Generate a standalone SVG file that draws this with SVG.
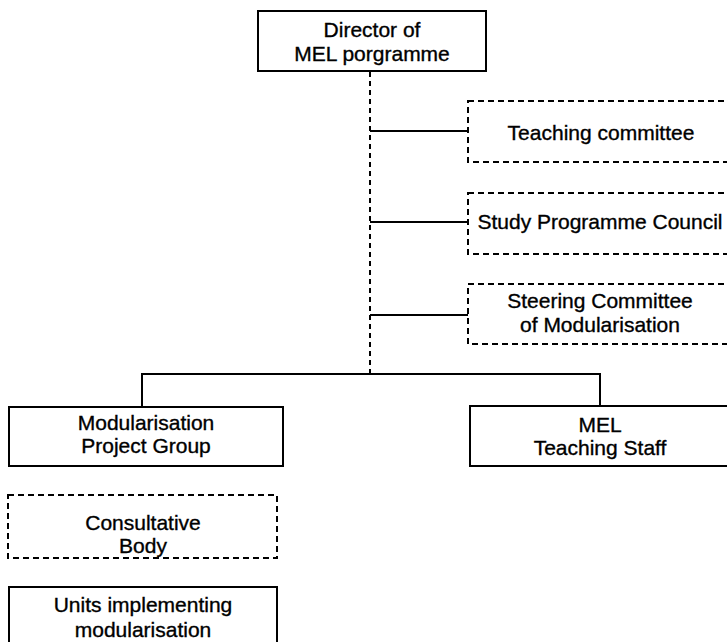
<svg xmlns="http://www.w3.org/2000/svg" width="727" height="642" viewBox="0 0 727 642">
  <style>
    .box { fill: #fff; stroke: #000; stroke-width: 2; }
    .dash { fill: none; stroke: #000; stroke-width: 2; stroke-dasharray: 6 4; }
    .line { fill: none; stroke: #000; stroke-width: 2; }
    .vdash { fill: none; stroke: #000; stroke-width: 2; stroke-dasharray: 5 4; }
    text { font-family: "Liberation Sans", Arial, sans-serif; font-size: 21px; fill: #000; stroke: #000; stroke-width: 0.35; text-anchor: middle; }
  </style>
  <rect width="727" height="642" fill="#fff"/>

  <g id="connectors">
    <path class="vdash" d="M370 72 V374"/>
    <path class="line" d="M370 131 H468"/>
    <path class="line" d="M370 222 H468"/>
    <path class="line" d="M370 315 H468"/>
    <path class="line" d="M142 407 V374 H600 V406"/>
  </g>

  <g id="director">
    <rect class="box" x="258" y="11" width="228" height="60"/>
    <text x="372" y="37">Director of</text>
    <text x="372" y="61">MEL porgramme</text>
  </g>

  <g id="teaching-committee">
    <rect class="dash" x="468" y="101" width="270" height="61"/>
    <text x="601" y="140">Teaching committee</text>
  </g>

  <g id="study-programme-council">
    <rect class="dash" x="468" y="193" width="270" height="61"/>
    <text x="600" y="229">Study Programme Council</text>
  </g>

  <g id="steering-committee">
    <rect class="dash" x="468" y="284" width="270" height="60"/>
    <text x="600" y="308">Steering Committee</text>
    <text x="600" y="332">of Modularisation</text>
  </g>

  <g id="project-group">
    <rect class="box" x="9" y="407" width="274" height="59"/>
    <text x="146" y="430">Modularisation</text>
    <text x="146" y="453">Project Group</text>
  </g>

  <g id="teaching-staff">
    <rect class="box" x="470" y="406" width="270" height="60"/>
    <text x="600" y="432">MEL</text>
    <text x="600" y="455">Teaching Staff</text>
  </g>

  <g id="consultative-body">
    <rect class="dash" x="8" y="495" width="269" height="63"/>
    <text x="143" y="530">Consultative</text>
    <text x="143" y="553">Body</text>
  </g>

  <g id="implementing-units">
    <rect class="box" x="9" y="587" width="268" height="70"/>
    <text x="143" y="612">Units implementing</text>
    <text x="143" y="637">modularisation</text>
  </g>
</svg>
